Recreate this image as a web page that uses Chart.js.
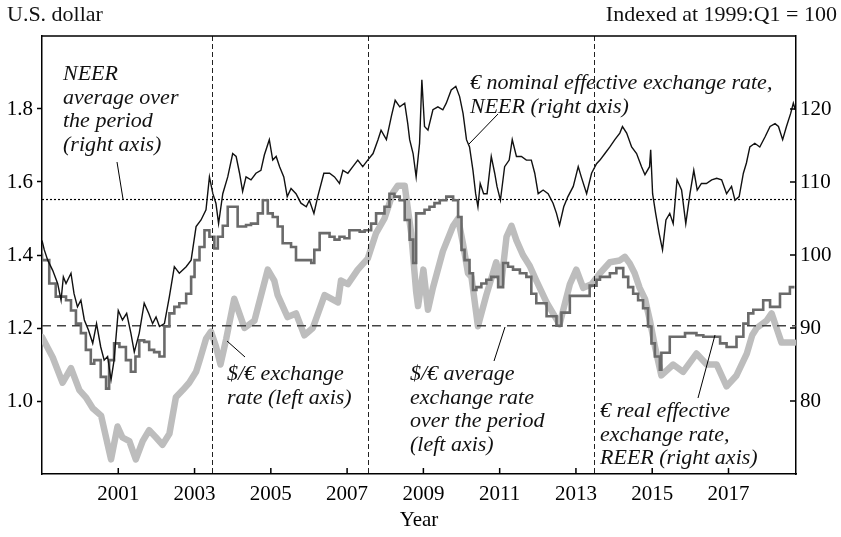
<!DOCTYPE html>
<html>
<head>
<meta charset="utf-8">
<script src="https://cdn.jsdelivr.net/npm/chart.js@4/dist/chart.umd.min.js"></script>
<style>
  html, body { margin: 0; padding: 0; background: #fff; }
</style>
</head>
<body>
<canvas id="rateChart" width="841" height="537"></canvas>
<script>
// $/€ exchange rate (left axis)
const usdYears = [1999.0, 1999.28, 1999.54, 1999.76, 1999.98, 2000.15, 2000.33, 2000.55, 2000.68, 2000.81,
  2000.98, 2001.11, 2001.29, 2001.46, 2001.64, 2001.81, 2001.99, 2002.16, 2002.34, 2002.51,
  2002.69, 2002.86, 2003.04, 2003.13, 2003.3, 2003.43, 2003.56, 2003.68, 2003.83, 2004.04,
  2004.31, 2004.57, 2004.92, 2005.09, 2005.18, 2005.44, 2005.66, 2005.88, 2006.1, 2006.41,
  2006.76, 2006.84, 2007.02, 2007.28, 2007.54, 2007.76, 2007.98, 2008.2, 2008.33, 2008.51,
  2008.68, 2008.81, 2008.86, 2009.0, 2009.12, 2009.25, 2009.51, 2009.78, 2009.91, 2010.04,
  2010.17, 2010.26, 2010.43, 2010.65, 2010.91, 2011.04, 2011.18, 2011.31, 2011.44, 2011.61,
  2011.79, 2011.96, 2012.23, 2012.57, 2012.84, 2013.01, 2013.19, 2013.41, 2013.63, 2013.89,
  2014.15, 2014.28, 2014.41, 2014.54, 2014.67, 2014.81, 2014.94, 2015.07, 2015.24, 2015.55,
  2015.81, 2016.16, 2016.43, 2016.69, 2016.95, 2017.21, 2017.48, 2017.62, 2017.74, 2018.0,
  2018.13, 2018.26, 2018.39, 2018.72];
const usdRates = [1.175, 1.12, 1.05, 1.09, 1.03, 1.01, 0.98, 0.96, 0.9, 0.84,
  0.93, 0.9, 0.89, 0.84, 0.89, 0.92, 0.9, 0.88, 0.91, 1.01,
  1.03, 1.05, 1.08, 1.11, 1.17, 1.19, 1.15, 1.1, 1.17, 1.28,
  1.2, 1.22, 1.36, 1.33, 1.29, 1.23, 1.24, 1.18, 1.2, 1.29,
  1.27, 1.33, 1.32, 1.36, 1.39, 1.46, 1.5, 1.57, 1.59, 1.59,
  1.46, 1.3, 1.26, 1.36, 1.25, 1.31, 1.41, 1.48, 1.5, 1.43,
  1.35, 1.34, 1.205, 1.29, 1.38, 1.32, 1.45, 1.48, 1.44, 1.4,
  1.37, 1.33, 1.27, 1.21, 1.32, 1.36, 1.31, 1.32, 1.35, 1.38,
  1.385, 1.395, 1.377, 1.35, 1.31, 1.28, 1.22, 1.15, 1.07, 1.1,
  1.08, 1.13, 1.1, 1.1, 1.04, 1.07, 1.13, 1.18, 1.2, 1.22,
  1.24, 1.2, 1.16, 1.16];

// € nominal effective exchange rate (right axis)
const neerYears = [1999.0, 1999.06, 1999.15, 1999.28, 1999.41, 1999.5, 1999.56, 1999.63, 1999.76, 1999.84,
  1999.93, 2000.02, 2000.11, 2000.22, 2000.33, 2000.43, 2000.54, 2000.63, 2000.72, 2000.81,
  2000.89, 2001.0, 2001.11, 2001.22, 2001.33, 2001.42, 2001.55, 2001.68, 2001.8, 2001.9,
  2001.99, 2002.08, 2002.21, 2002.34, 2002.47, 2002.6, 2002.78, 2002.91, 2003.04, 2003.17,
  2003.3, 2003.39, 2003.48, 2003.56, 2003.63, 2003.74, 2003.87, 2004.0, 2004.09, 2004.18,
  2004.26, 2004.35, 2004.48, 2004.61, 2004.74, 2004.83, 2004.96, 2005.05, 2005.14, 2005.23,
  2005.34, 2005.43, 2005.53, 2005.66, 2005.79, 2005.93, 2006.01, 2006.13, 2006.23, 2006.39,
  2006.54, 2006.67, 2006.8, 2006.89, 2007.02, 2007.15, 2007.28, 2007.41, 2007.54, 2007.68,
  2007.81, 2007.89, 2008.03, 2008.16, 2008.26, 2008.38, 2008.51, 2008.59, 2008.64, 2008.73,
  2008.81, 2008.9, 2008.96, 2009.03, 2009.12, 2009.25, 2009.38, 2009.51, 2009.6, 2009.73,
  2009.85, 2009.95, 2010.04, 2010.13, 2010.21, 2010.3, 2010.37, 2010.43, 2010.49, 2010.58,
  2010.67, 2010.78, 2010.87, 2010.93, 2011.02, 2011.13, 2011.25, 2011.33, 2011.44, 2011.57,
  2011.7, 2011.83, 2011.92, 2012.01, 2012.14, 2012.27, 2012.4, 2012.49, 2012.57, 2012.68,
  2012.79, 2012.93, 2013.06, 2013.14, 2013.28, 2013.41, 2013.54, 2013.63, 2013.76, 2013.89,
  2014.02, 2014.15, 2014.22, 2014.33, 2014.46, 2014.59, 2014.72, 2014.81, 2014.93, 2014.96,
  2015.01, 2015.09, 2015.18, 2015.27, 2015.36, 2015.46, 2015.55, 2015.65, 2015.77, 2015.88,
  2015.99, 2016.09, 2016.18, 2016.29, 2016.42, 2016.56, 2016.69, 2016.82, 2016.95, 2017.08,
  2017.17, 2017.28, 2017.39, 2017.47, 2017.56, 2017.69, 2017.82, 2017.96, 2018.09, 2018.22,
  2018.31, 2018.42, 2018.52, 2018.63, 2018.7, 2018.75];
const neerIndex = [102.0, 100.7, 99.3, 97.9, 96.1, 93.8, 97.0, 96.1, 97.5, 94.7,
  92.9, 93.8, 91.1, 89.7, 87.9, 90.6, 87.4, 85.6, 86.1, 82.9,
  85.6, 92.4, 91.1, 92.0, 89.3, 86.7, 89.3, 93.4, 92.0, 90.6,
  91.5, 90.2, 90.6, 94.3, 98.4, 97.5, 98.4, 99.3, 103.9, 104.8,
  106.2, 110.7, 108.4, 107.1, 104.3, 108.4, 110.7, 113.9, 113.5, 111.2,
  108.7, 110.7, 110.3, 111.2, 111.6, 113.7, 115.8, 113.0, 113.5, 112.1,
  110.7, 108.0, 109.1, 108.4, 107.1, 106.6, 107.5, 105.7, 108.0, 111.2,
  111.2, 110.7, 109.8, 111.6, 111.2, 112.1, 113.0, 112.1, 113.0, 113.9,
  115.8, 117.1, 115.8, 119.0, 121.2, 120.3, 120.8, 118.0, 115.8, 113.9,
  110.7, 115.3, 124.0, 117.6, 117.1, 119.9, 120.3, 119.9, 120.8, 122.6,
  123.1, 121.7, 119.4, 115.8, 114.8, 111.6, 108.4, 106.6, 109.8, 108.4,
  108.4, 113.5, 111.2, 109.4, 107.5, 112.1, 113.0, 115.8, 113.5, 113.5,
  113.0, 113.0, 111.2, 108.4, 108.9, 108.4, 107.1, 105.7, 104.1, 106.6,
  108.0, 109.4, 112.1, 110.7, 108.4, 111.2, 112.5, 113.0, 113.9, 114.8,
  115.8, 116.7, 117.6, 116.7, 114.8, 113.9, 112.1, 111.0, 112.1, 114.4,
  108.4, 105.7, 103.0, 100.7, 104.8, 105.7, 104.3, 110.3, 108.9, 104.3,
  108.4, 111.6, 108.9, 109.8, 109.8, 110.3, 110.5, 110.3, 108.4, 109.4,
  107.5, 108.0, 111.2, 112.6, 114.8, 115.3, 114.8, 116.2, 117.6, 118.0,
  117.6, 115.8, 117.6, 119.4, 120.8, 119.9];

// € real effective exchange rate (right axis)
const reerYears = [1999.0, 1999.19, 1999.36, 1999.45, 1999.63, 1999.76, 1999.89, 2000.02, 2000.15, 2000.28,
  2000.37, 2000.54, 2000.68, 2000.76, 2000.89, 2001.03, 2001.2, 2001.33, 2001.45, 2001.55,
  2001.68, 2001.81, 2001.94, 2002.08, 2002.21, 2002.34, 2002.47, 2002.6, 2002.78, 2002.91,
  2003.0, 2003.13, 2003.26, 2003.39, 2003.52, 2003.61, 2003.74, 2003.87, 2004.0, 2004.13,
  2004.22, 2004.35, 2004.48, 2004.66, 2004.79, 2004.92, 2005.05, 2005.18, 2005.31, 2005.4,
  2005.53, 2005.66, 2005.79, 2005.93, 2006.06, 2006.14, 2006.28, 2006.41, 2006.54, 2006.67,
  2006.8, 2006.93, 2007.06, 2007.19, 2007.33, 2007.46, 2007.63, 2007.76, 2007.85, 2007.98,
  2008.11, 2008.24, 2008.38, 2008.51, 2008.64, 2008.73, 2008.81, 2008.9, 2009.03, 2009.16,
  2009.29, 2009.43, 2009.6, 2009.78, 2009.91, 2010.0, 2010.08, 2010.21, 2010.3, 2010.39,
  2010.52, 2010.65, 2010.78, 2010.96, 2011.09, 2011.22, 2011.35, 2011.53, 2011.7, 2011.83,
  2011.96, 2012.23, 2012.49, 2012.62, 2012.84, 2013.1, 2013.36, 2013.54, 2013.63, 2013.89,
  2014.06, 2014.24, 2014.37, 2014.5, 2014.63, 2014.76, 2014.89, 2014.98, 2015.07, 2015.2,
  2015.24, 2015.46, 2015.64, 2015.86, 2015.99, 2016.16, 2016.34, 2016.56, 2016.78, 2016.95,
  2017.21, 2017.39, 2017.52, 2017.65, 2017.91, 2018.09, 2018.35, 2018.48, 2018.61, 2018.73];
const reerIndex = [100.2, 99.3, 96.1, 94.3, 94.3, 93.8, 92.4, 90.6, 89.3, 87.0,
  85.1, 85.6, 83.3, 81.7, 85.6, 87.9, 87.4, 85.6, 84.0, 86.1,
  88.3, 88.1, 87.0, 86.7, 86.1, 90.2, 92.0, 92.9, 93.4, 94.7,
  97.0, 99.3, 101.1, 103.4, 102.5, 100.9, 102.5, 104.0, 106.6, 106.6,
  103.9, 103.9, 104.1, 104.3, 105.7, 107.5, 105.7, 105.2, 103.9, 101.6,
  101.6, 101.1, 99.3, 99.3, 99.3, 98.9, 100.7, 103.0, 103.0, 102.5,
  102.1, 102.5, 102.3, 103.4, 103.4, 103.2, 103.4, 104.3, 105.7, 105.7,
  106.6, 108.4, 108.0, 107.5, 104.8, 102.1, 98.9, 105.7, 105.7, 106.2,
  106.6, 107.1, 107.5, 108.0, 107.5, 105.2, 100.7, 99.3, 97.5, 95.2,
  95.6, 96.1, 96.6, 97.0, 95.6, 98.9, 98.4, 98.0, 97.5, 97.0,
  94.7, 93.4, 91.6, 90.3, 92.1, 94.4, 94.4, 95.8, 96.6, 97.0,
  97.5, 98.2, 97.0, 95.6, 94.7, 93.8, 92.7, 90.2, 87.9, 86.1,
  84.3, 86.6, 88.8, 88.8, 89.3, 89.3, 89.0, 88.8, 88.8, 87.9,
  87.4, 88.8, 90.6, 92.0, 92.5, 93.8, 92.9, 94.7, 94.7, 95.6];

const usdAverage = 1.206;
const neerAverage = 107.6;
const periodBreaks = [2003.47, 2007.56, 2013.47];

const xTickYears = [2001, 2003, 2005, 2007, 2009, 2011, 2013, 2015, 2017];
const leftTicks = [1.0, 1.2, 1.4, 1.6, 1.8];
const rightTicks = [80, 90, 100, 110, 120];
const xMin = 1999;
const xMax = 2018.77;

const toPoints = (xs, ys) => xs.map((x, i) => ({ x: x, y: ys[i] }));

const FONT = 'Liberation Serif, Times New Roman, serif';
const tickFont = { family: FONT, size: 21 };

const notes = [
  { x: 63, y: 80, lines: ['NEER', 'average over', 'the period', '(right axis)'], lead: [117, 162, 123, 199] },
  { x: 470, y: 89, lines: ['€ nominal effective exchange rate,', 'NEER (right axis)'], lead: [498, 114, 469, 144] },
  { x: 227, y: 380, lines: ['$/€ exchange', 'rate (left axis)'], lead: [245, 357, 227, 341] },
  { x: 410, y: 380, lines: ['$/€ average', 'exchange rate', 'over the period', '(left axis)'], lead: [494, 361, 505, 327] },
  { x: 600, y: 417, lines: ['€ real effective', 'exchange rate,', 'REER (right axis)'], lead: [698, 398, 715, 335] },
];

const decorPlugin = {
  id: 'decor',
  afterDatasetsDraw(chart) {
    const { ctx, chartArea: a, scales } = chart;
    ctx.save();
    // period separators
    ctx.strokeStyle = '#222';
    ctx.lineWidth = 1;
    ctx.setLineDash([5, 3]);
    periodBreaks.forEach((yr) => {
      const px = Math.round(scales.x.getPixelForValue(yr)) + 0.5;
      ctx.beginPath();
      ctx.moveTo(px, a.top);
      ctx.lineTo(px, a.bottom);
      ctx.stroke();
    });
    ctx.setLineDash([]);

    // frame top and inward tick marks
    ctx.strokeStyle = '#000';
    ctx.lineWidth = 1.5;
    ctx.beginPath();
    ctx.moveTo(a.left, a.top);
    ctx.lineTo(a.right, a.top);
    rightTicks.forEach((v) => {
      const py = scales.yR.getPixelForValue(v);
      ctx.moveTo(a.right - 6, py);
      ctx.lineTo(a.right, py);
    });
    xTickYears.forEach((v) => {
      const px = scales.x.getPixelForValue(v);
      ctx.moveTo(px, a.bottom - 6);
      ctx.lineTo(px, a.bottom);
    });
    ctx.stroke();

    // annotations
    ctx.fillStyle = '#111';
    ctx.font = 'italic 22px ' + FONT;
    ctx.textAlign = 'left';
    ctx.textBaseline = 'alphabetic';
    ctx.lineWidth = 1;
    notes.forEach((n) => {
      n.lines.forEach((t, i) => ctx.fillText(t, n.x, n.y + i * 23.5));
      ctx.beginPath();
      ctx.moveTo(n.lead[0], n.lead[1]);
      ctx.lineTo(n.lead[2], n.lead[3]);
      ctx.stroke();
    });

    // axis unit labels
    ctx.font = '22px ' + FONT;
    ctx.fillText('U.S. dollar', 7, 21);
    ctx.textAlign = 'right';
    ctx.fillText('Indexed at 1999:Q1 = 100', 837, 21);
    ctx.restore();
  },
};

const data = {
  datasets: [
    {
      label: 'NEER',
      data: toPoints(neerYears, neerIndex),
      yAxisID: 'yR',
      borderColor: '#111',
      borderWidth: 1.4,
      order: 1,
    },
    {
      label: 'REER',
      data: toPoints(reerYears, reerIndex),
      yAxisID: 'yR',
      borderColor: '#6a6a6a',
      borderWidth: 2.6,
      stepped: 'after',
      order: 2,
    },
    {
      label: 'NEER average',
      data: [{ x: xMin, y: neerAverage }, { x: xMax, y: neerAverage }],
      yAxisID: 'yR',
      borderColor: '#000',
      borderWidth: 1.2,
      borderDash: [2, 2],
      order: 3,
    },
    {
      label: '$/€ average',
      data: [{ x: xMin, y: usdAverage }, { x: xMax, y: usdAverage }],
      yAxisID: 'yL',
      borderColor: '#444',
      borderWidth: 1.5,
      borderDash: [9, 6],
      order: 4,
    },
    {
      label: '$/€',
      data: toPoints(usdYears, usdRates),
      yAxisID: 'yL',
      borderColor: '#bdbdbd',
      borderWidth: 6.5,
      borderJoinStyle: 'round',
      borderCapStyle: 'round',
      order: 5,
    },
  ],
};

const config = {
  type: 'line',
  data: data,
  options: {
    responsive: false,
    animation: false,
    layout: { padding: { top: 36, left: 0, right: 0, bottom: 0 } },
    elements: { point: { radius: 0 }, line: { tension: 0 } },
    scales: {
      x: {
        type: 'linear',
        min: xMin,
        max: xMax,
        afterBuildTicks: (s) => { s.ticks = xTickYears.map((v) => ({ value: v })); },
        afterFit: (s) => { s.height = 63; },
        ticks: { font: tickFont, color: '#000', padding: 8, maxRotation: 0, autoSkip: false, callback: (v) => String(v) },
        grid: { drawOnChartArea: false, drawTicks: false },
        border: { color: '#000', width: 1.5 },
        title: { display: true, text: 'Year', font: tickFont, color: '#000', padding: { top: 0, bottom: 4 } },
      },
      yL: {
        type: 'linear',
        position: 'left',
        min: 0.8,
        max: 2.0,
        afterBuildTicks: (s) => { s.ticks = leftTicks.map((v) => ({ value: v })); },
        afterFit: (s) => { s.width = 42; },
        ticks: { font: tickFont, color: '#000', padding: 4, callback: (v) => v.toFixed(1) },
        grid: { drawOnChartArea: false, drawTicks: true, tickLength: 5, tickColor: '#000', tickWidth: 1.5 },
        border: { color: '#000', width: 1.5 },
      },
      yR: {
        type: 'linear',
        position: 'right',
        min: 70,
        max: 130,
        afterBuildTicks: (s) => { s.ticks = rightTicks.map((v) => ({ value: v })); },
        afterFit: (s) => { s.width = 45; },
        ticks: { font: tickFont, color: '#000', padding: 4, callback: (v) => String(v) },
        grid: { drawOnChartArea: false, drawTicks: false },
        border: { color: '#000', width: 1.5 },
      },
    },
    plugins: {
      legend: { display: false },
      tooltip: { enabled: false },
    },
  },
  plugins: [decorPlugin],
};

const ctx = document.getElementById('rateChart').getContext('2d');
new Chart(ctx, config);
</script>
</body>
</html>
